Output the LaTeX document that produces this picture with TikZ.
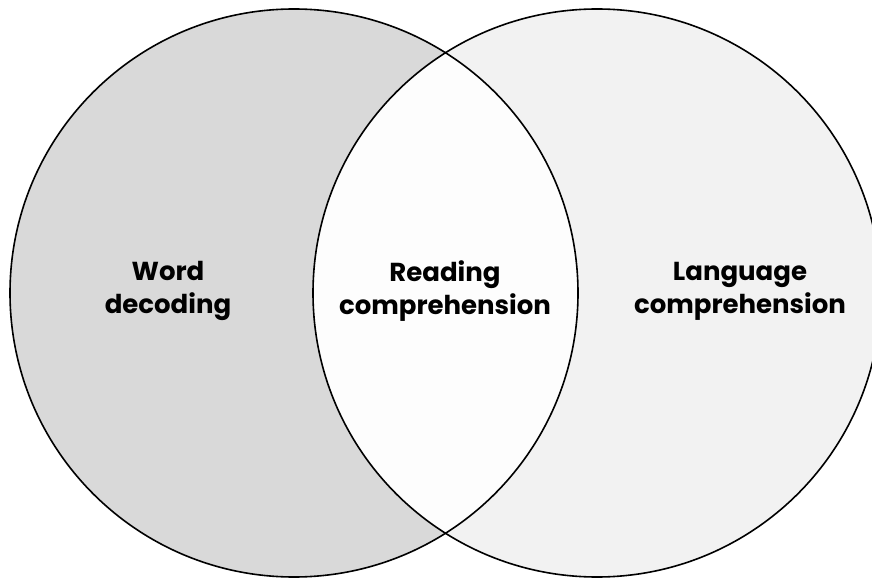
\documentclass[tikz,border=0pt]{standalone}
\usepackage{fontspec}
\setmainfont{Poppins}
\usepackage{tikz}

\definecolor{leftgray}{HTML}{D9D9D9}
\definecolor{rightgray}{HTML}{F2F2F2}
\definecolor{middlegray}{HTML}{FDFDFD}

\tikzset{
    vlabel/.style={align=center, font=\fontsize{26}{33}\selectfont\bfseries},
    vline/.style={line width=1.6pt, black}
}

\begin{document}
\begin{tikzpicture}[x=1pt,y=1pt]
        \useasboundingbox (0,0) rectangle (872,579);
        \clip (0,0) rectangle (872,579);

        % circle centres
        \coordinate (wd) at (294,286);
        \coordinate (lc) at (597,286);

        % fills
        \fill[leftgray] (wd) circle (284);
        \fill[rightgray] (lc) circle (284);
        \begin{scope}
            \clip (wd) circle (284);
            \fill[middlegray] (lc) circle (284);
        \end{scope}

        % outlines
        \draw[vline] (wd) circle (284);
        \draw[vline] (lc) circle (284);

        % labels
        \node[vlabel] (word) at (168,288) {Word\\decoding};
        \node[vlabel] (reading) at (445,288) {Reading\\comprehension};
        \node[vlabel] (language) at (740,288) {Language\\comprehension};

    \end{tikzpicture}
\end{document}
